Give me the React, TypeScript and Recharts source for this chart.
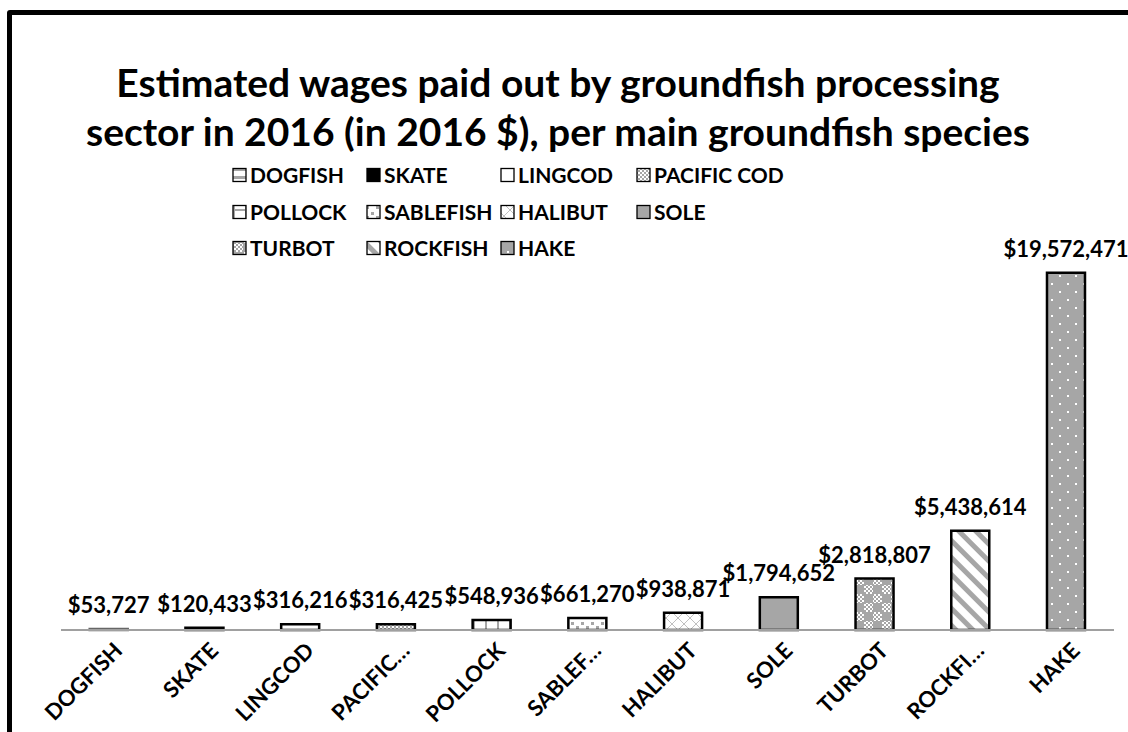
import { Bar, BarChart, Cell, LabelList, XAxis, YAxis } from 'recharts';

const categories = [
    'DOGFISH',
    'SKATE',
    'LINGCOD',
    'PACIFIC COD',
    'POLLOCK',
    'SABLEFISH',
    'HALIBUT',
    'SOLE',
    'TURBOT',
    'ROCKFISH',
    'HAKE',
];
const tickLabels = [
    'DOGFISH',
    'SKATE',
    'LINGCOD',
    'PACIFIC…',
    'POLLOCK',
    'SABLEF…',
    'HALIBUT',
    'SOLE',
    'TURBOT',
    'ROCKFI…',
    'HAKE',
];
const wages = [
    53727, 120433, 316216, 316425, 548936, 661270, 938871, 1794652, 2818807,
    5438614, 19572471,
];
const fills = [
    'url(#p-dogfish)',
    '#000000',
    '#ffffff',
    'url(#p-pacific)',
    'url(#p-pollock)',
    'url(#p-sablefish)',
    'url(#p-halibut)',
    '#a6a6a6',
    'url(#p-turbot)',
    'url(#p-rockfish)',
    'url(#p-hake)',
];
const titleLines = [
    'Estimated wages paid out by groundfish processing',
    'sector in 2016 (in 2016 $), per main groundfish species',
];

const GRAY = '#a6a6a6';
const FONT = 'Lato, "Open Sans", sans-serif';

const chartData = categories.map((name, i) => ({
    name,
    value: wages[i],
    fill: fills[i],
}));

function Patterns() {
    return (
        <svg width={0} height={0} style={{ position: 'absolute' }}>
            <defs>
                <pattern id="p-dogfish" width={8} height={8} patternUnits="userSpaceOnUse">
                    <rect width={8} height={8} fill="#fff" />
                    <rect width={8} height={3} fill={GRAY} />
                </pattern>
                <pattern id="p-pacific" width={4} height={4} patternUnits="userSpaceOnUse">
                    <rect width={4} height={4} fill="#fff" />
                    <rect width={2} height={2} fill={GRAY} />
                    <rect x={2} y={2} width={2} height={2} fill={GRAY} />
                </pattern>
                <pattern id="p-pollock" width={12} height={12} patternUnits="userSpaceOnUse">
                    <rect width={12} height={12} fill="#fff" />
                    <rect y={5} width={12} height={2} fill={GRAY} />
                    <rect x={5} width={2} height={12} fill={GRAY} />
                </pattern>
                <pattern id="p-sablefish" width={10} height={10} patternUnits="userSpaceOnUse">
                    <rect width={10} height={10} fill="#fff" />
                    <rect x={1} y={2} width={3} height={3} fill={GRAY} />
                    <rect x={6} y={6} width={3} height={3} fill={GRAY} />
                </pattern>
                <pattern id="p-halibut" width={12} height={12} patternUnits="userSpaceOnUse">
                    <rect width={12} height={12} fill="#fff" />
                    <path d="M0 0 L12 12 M12 0 L0 12" stroke="#c0c0c0" strokeWidth={1} />
                </pattern>
                <pattern id="p-turbot" width={18} height={18} patternUnits="userSpaceOnUse">
                    <rect width={18} height={18} fill="url(#p-pacific)" />
                    <rect width={9} height={9} fill={GRAY} />
                    <rect x={9} y={9} width={9} height={9} fill={GRAY} />
                </pattern>
                <pattern
                    id="p-rockfish"
                    width={12}
                    height={12}
                    patternUnits="userSpaceOnUse"
                    patternTransform="rotate(-45)"
                >
                    <rect width={12} height={12} fill="#fff" />
                    <rect width={5} height={12} fill={GRAY} />
                </pattern>
                <pattern id="p-hake" width={16} height={16} patternUnits="userSpaceOnUse">
                    <rect width={16} height={16} fill={GRAY} />
                    <rect x={3} y={3} width={2} height={2} fill="#fff" />
                    <rect x={11} y={11} width={2} height={2} fill="#fff" />
                </pattern>
            </defs>
        </svg>
    );
}

function RotatedTick({ x, y, payload }: any) {
    const idx = categories.indexOf(payload.value);
    const px = x + 15;
    const py = y + 22;
    return (
        <text
            x={px}
            y={py}
            transform={`rotate(-45, ${px}, ${py})`}
            textAnchor="end"
            fontFamily={FONT}
            fontWeight={700}
            fontSize={22}
            fill="#000"
        >
            {tickLabels[idx]}
        </text>
    );
}

function TitleAndLegend() {
    const textX = [250, 384, 518, 654];
    const rowY = [182.5, 219.5, 255.5];
    return (
        <svg
            width={1128}
            height={732}
            style={{ position: 'absolute', left: 0, top: 0, pointerEvents: 'none' }}
        >
            <text
                textAnchor="middle"
                fontFamily={FONT}
                fontWeight={700}
                fontSize={39}
                fill="#000"
            >
                <tspan x={558} y={97}>
                    {titleLines[0]}
                </tspan>
                <tspan x={558} y={146}>
                    {titleLines[1]}
                </tspan>
            </text>
            {categories.map((name, i) => {
                const tx = textX[i % 4];
                const by = rowY[Math.floor(i / 4)];
                return (
                    <g key={name}>
                        <rect
                            x={tx - 17}
                            y={by - 14}
                            width={13}
                            height={13}
                            fill={fills[i]}
                            stroke="#000"
                            strokeWidth={1.3}
                        />
                        <text
                            x={tx}
                            y={by}
                            fontFamily={FONT}
                            fontWeight={700}
                            fontSize={21}
                            fill="#000"
                        >
                            {name}
                        </text>
                    </g>
                );
            })}
        </svg>
    );
}

export default function App() {
    return (
        <div
            style={{
                position: 'relative',
                width: 1128,
                height: 732,
                overflow: 'hidden',
                background: '#fff',
            }}
        >
            <style>{'body{margin:0;overflow:hidden;}'}</style>
            <Patterns />
            <div
                style={{
                    position: 'absolute',
                    left: 7,
                    top: 10,
                    width: 1250,
                    height: 850,
                    border: '5px solid #000',
                    borderRadius: 3,
                }}
            />
            <div style={{ position: 'absolute', left: 0, top: 0 }}>
                <BarChart
                    width={1128}
                    height={732}
                    data={chartData}
                    margin={{ top: 265, right: 14, left: 61, bottom: 0 }}
                    barCategoryGap="30%"
                >
                    <XAxis
                        dataKey="name"
                        height={102}
                        interval={0}
                        tickLine={false}
                        tickSize={0}
                        tickMargin={0}
                        axisLine={{ stroke: '#a0a0a0', strokeWidth: 2 }}
                        tick={<RotatedTick />}
                    />
                    <YAxis hide domain={[0, 20000000]} />
                    <Bar dataKey="value" isAnimationActive={false} strokeWidth={2.5}>
                        {chartData.map((d, i) => (
                            <Cell
                                key={d.name}
                                fill={d.fill}
                                stroke={i === 0 ? '#666666' : '#000000'}
                            />
                        ))}
                        <LabelList
                            dataKey="value"
                            position="top"
                            offset={16}
                            formatter={(v: any) => '$' + Number(v).toLocaleString('en-US')}
                            style={{
                                fontFamily: FONT,
                                fontWeight: 700,
                                fontSize: 22,
                                fill: '#000',
                            }}
                        />
                    </Bar>
                </BarChart>
            </div>
            <TitleAndLegend />
        </div>
    );
}
